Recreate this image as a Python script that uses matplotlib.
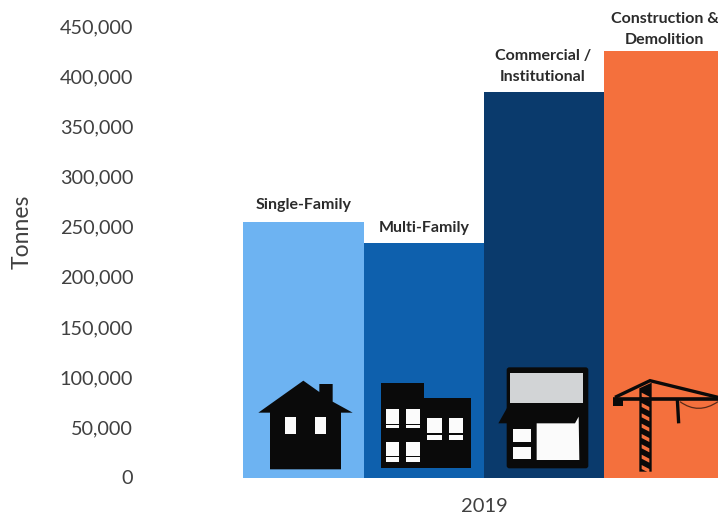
import matplotlib
matplotlib.use('Agg')
import matplotlib.pyplot as plt
from matplotlib.patches import Polygon, Rectangle, FancyBboxPatch, PathPatch
from matplotlib.path import Path
from matplotlib.ticker import FuncFormatter
from matplotlib.transforms import Affine2D
import numpy as np

categories = ['Single-Family', 'Multi-Family', 'Commercial /\nInstitutional', 'Construction &\nDemolition']
tonnes = [254500, 233500, 384000, 425000]
colors = ['#6db3f2', '#0e60ad', '#0a3a6c', '#f4703d']
label_gap = [7, 6, 6, 3]  # space between bar top and its label, in points
y_ticks = list(range(0, 450001, 50000))
year = '2019'

W, H = 718, 516
plt.rcParams['font.family'] = ['Lato', 'DejaVu Sans']

fig = plt.figure(figsize=(W / 100, H / 100), dpi=100)
ax = fig.add_axes([140 / W, 1 - 477.5 / H, (W - 140) / W, 477.5 / H])

x = np.arange(len(categories))
bars = ax.bar(x, tonnes, width=1.0, color=colors, linewidth=0)

bar_px = 120.3
ax.set_xlim(-0.5 - (243.5 - 140) / bar_px, -0.5 + (W - 243.5) / bar_px)
ax.set_ylim(0, 477.5 / (451.5 / 450000))

ax.set_yticks(y_ticks)
ax.yaxis.set_major_formatter(FuncFormatter(lambda v, pos: f'{int(v):,}'))
ax.tick_params(axis='y', length=0, labelsize=14.3, labelcolor='#404040', pad=5)
ax.set_xticks([])
for s in ax.spines.values():
    s.set_visible(False)

for xi, val, name, gap in zip(x, tonnes, categories, label_gap):
    ax.annotate(name, (xi, val), xytext=(-1 if xi == 2 else 0, gap), textcoords='offset points',
                ha='center', va='bottom', fontsize=11.5, fontweight='bold',
                color='#2b2b2b', linespacing=1.6, annotation_clip=False)

fig.text(484 / W, 1 - 507 / H, year, ha='center', va='center', fontsize=14.5, color='#404040')
fig.text(22 / W, 1 - 232 / H, 'Tonnes', ha='center', va='center', rotation=90, fontsize=16.5, color='#404040')

# icon shapes are laid out in thirds of a pixel, from the lower left area of the figure
tf = Affine2D().scale(1 / 3).translate(240, 360).scale(1 / W, -1 / H).translate(0, 1) + fig.transFigure
BLACK = '#0a0a0a'
WHITE = '#fbfbfb'


def poly(pts, color=BLACK):
    fig.add_artist(Polygon(pts, closed=True, facecolor=color, edgecolor='none', transform=tf))


def rect(x0, y0, x1, y1, color=WHITE):
    fig.add_artist(Rectangle((x0, y0), x1 - x0, y1 - y0, facecolor=color, edgecolor='none', transform=tf))


def stroke(pts, lw=2.0, color=BLACK):
    fig.add_artist(PathPatch(Path(pts), facecolor='none', edgecolor=color, linewidth=lw, transform=tf))


# house
poly([(55, 158), (190, 62), (238, 96), (238, 72), (278, 72), (278, 125), (338, 158),
      (303, 158), (303, 328), (90, 328), (90, 158)])
rect(136, 170, 168, 222)
rect(226, 170, 258, 222)

# apartment block
poly([(424, 68), (552, 68), (552, 115), (693, 115), (693, 325), (424, 325)])
for x0, y0, x1, y1, bar in [(437, 147, 476, 205, 191), (498, 147, 540, 205, 191),
                            (561, 173, 607, 240, 220), (627, 173, 670, 240, 220),
                            (437, 246, 476, 305, 287), (498, 246, 540, 305, 287)]:
    rect(x0, y0, x1, y1)
    rect(x0, bar, x1, bar + 5, BLACK)

# shop front
fig.add_artist(FancyBboxPatch((800, 22), 245, 303, boxstyle='round,pad=0,rounding_size=8',
                              facecolor=BLACK, edgecolor='none', transform=tf))
rect(810, 38, 1030, 130, '#d2d4d6')
poly([(775, 190), (806, 135), (806, 190)])
poly([(890, 190), (1005, 190), (1016, 170), (1018, 300), (890, 300)], WHITE)
rect(820, 207, 872, 245)
rect(820, 260, 872, 298)

# tower crane
poly([(1198, 85), (1235, 68), (1235, 335), (1198, 335)])
for y0 in np.arange(98, 320, 31):
    poly([(1205, y0), (1228, y0 + 12), (1228, y0 + 24), (1205, y0 + 12)], '#f4703d')
stroke([(1118, 118), (1434, 118)], lw=2.6)
stroke([(1125, 112), (1230, 62), (1434, 112)], lw=2.4)
rect(1118, 115, 1148, 138, BLACK)
stroke([(1312, 118), (1316, 190)], lw=2.4)
fig.add_artist(PathPatch(Path([(1320, 125), (1375, 165), (1434, 125)], [Path.MOVETO, Path.CURVE3, Path.CURVE3]),
                         facecolor='none', edgecolor='#5a2a18', linewidth=0.9, transform=tf))

fig.savefig('out.png', dpi=100, facecolor='white')
